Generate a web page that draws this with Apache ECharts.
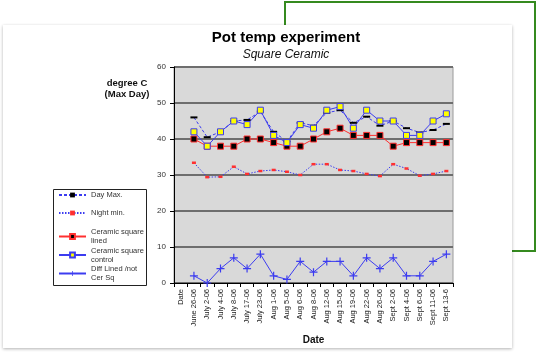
<!DOCTYPE html>
<html><head><meta charset="utf-8">
<script src="https://cdn.jsdelivr.net/npm/echarts@6/dist/echarts.min.js"></script>
<style>html,body{margin:0;padding:0;background:#fff}#c{width:536px;height:356px}</style>
</head><body><div id="c"></div>
<script>
var categories = ["Date","June 26-06","July 2-06","July 4-06","July 8-06","July 17-06","July 23-06","Aug 1-06","Aug 5-06","Aug 6-06","Aug 8-06","Aug 12-06","Aug 15-06","Aug 19-06","Aug 22-06","Aug 26-06","Sept 2-06","Sept 4-06","Sept 6-06","Sept 11-06","Sept 13-6"];
var dayMax   = [null,46,40.5,42,45,45.3,47.6,42,39.3,44.5,43.7,47.3,48,44.5,46.2,43.7,45,43,41.8,42.5,44.2];
var nightMin = [null,33.4,29.4,29.5,32.3,30.3,31.1,31.4,30.9,30,33,33,31.4,31.1,30.3,29.7,33,31.8,29.8,30.3,31.1];
var lined    = [null,40,38,38,38,40,40,39,38,38,40,42,43,41,41,41,38,39,39,39,39];
var control  = [null,42,38,42,45,44,48,41,39,44,43,48,49,43,48,45,45,41,41,45,47];
var diff     = [null,2,0,4,7,4,8,2,1,6,3,6,6,2,7,4,7,2,2,6,8];
var yTicks = [0,10,20,30,40,50,60];

var BLUE = '#3c3cf0', RED = '#ff3030';
var FONT = 'Liberation Sans, Arial, sans-serif';
var chart = echarts.init(document.getElementById('c'), null, {renderer:'canvas'});
var plus = 'path://M3.4,0H4.6V3.4H8V4.6H4.6V8H3.4V4.6H0V3.4H3.4Z';
chart.setOption({
  animation:false,
  textStyle:{fontFamily:FONT},
  graphic:[
    {type:'polyline', z:-20, shape:{points:[[285,30],[285,2],[535,2],[535,251],[505,251]]}, style:{stroke:'#358a1f', lineWidth:2, fill:null}},
    {type:'rect', z:-10, shape:{x:3,y:25,width:509,height:323}, style:{fill:'#fff', shadowBlur:3, shadowColor:'rgba(0,0,0,0.3)', shadowOffsetY:1}},
    {type:'rect', z:5, shape:{x:53.5,y:189.5,width:93,height:96}, style:{fill:null, stroke:'#222', lineWidth:1}}
  ],
  title:[
    {text:'Pot temp experiment', subtext:'Square Ceramic', left:281, textAlign:'center', top:25, itemGap:4,
     textStyle:{fontSize:15, fontWeight:'bold', color:'#000', fontFamily:FONT},
     subtextStyle:{fontSize:12, fontStyle:'italic', color:'#111', fontFamily:FONT}},
    {text:'degree C\n(Max Day)', left:122, textAlign:'center', top:73,
     textStyle:{fontSize:9.5, fontWeight:'bold', color:'#111', lineHeight:11, fontFamily:FONT}}
  ],
  legend:[
    {data:['Day Max.','Night min.'], orient:'vertical', left:58, top:186, itemGap:0, itemWidth:27, itemHeight:6, padding:0,
     textStyle:{fontSize:7.5, color:'#333', lineHeight:18}},
    {data:['Ceramic square\nlined','Ceramic square\ncontrol','Diff Lined /not\nCer Sq'], orient:'vertical', left:58, top:227.5, itemGap:0.5, itemWidth:27, itemHeight:6, padding:0,
     textStyle:{fontSize:7.5, color:'#333', lineHeight:9}}
  ],
  grid:{left:174, top:67, right:83, bottom:73, show:true, backgroundColor:'#d9d9d9', borderColor:'#9a9a9a', borderWidth:1},
  xAxis:{type:'category', data:categories, boundaryGap:true,
    name:'Date', nameLocation:'middle', nameGap:52, nameTextStyle:{fontSize:10, fontWeight:'bold', color:'#111'},
    axisLine:{lineStyle:{color:'#000', width:1}},
    axisTick:{show:true, length:4, alignWithLabel:false, lineStyle:{color:'#000'}},
    axisLabel:{rotate:90, fontSize:7.5, color:'#222', margin:6, interval:0}},
  yAxis:{type:'value', min:0, max:60, interval:10,
    axisLine:{show:true, lineStyle:{color:'#000', width:1}},
    axisTick:{show:true, length:4, lineStyle:{color:'#000'}},
    axisLabel:{fontSize:8, color:'#333', margin:8},
    splitLine:{show:true, lineStyle:{color:'#6e6e6e', width:2}}},
  series:[
    {name:'Day Max.', type:'line', data:dayMax, symbol:'rect', symbolSize:[7,2],
     lineStyle:{color:BLUE, width:1, type:[3,2]}, itemStyle:{color:'#000'}},
    {name:'Night min.', type:'line', data:nightMin, symbol:'rect', symbolSize:[4,2.5],
     lineStyle:{color:BLUE, width:1, type:[1.5,1.5]}, itemStyle:{color:RED}},
    {name:'Ceramic square\nlined', type:'line', data:lined, symbol:'rect', symbolSize:6,
     lineStyle:{color:RED, width:1}, itemStyle:{color:'#000', borderColor:RED, borderWidth:1}},
    {name:'Ceramic square\ncontrol', type:'line', data:control, symbol:'rect', symbolSize:6,
     lineStyle:{color:BLUE, width:1}, itemStyle:{color:'#ffff00', borderColor:BLUE, borderWidth:1}},
    {name:'Diff Lined /not\nCer Sq', type:'line', data:diff, symbol:plus, symbolSize:8,
     lineStyle:{color:BLUE, width:1}, itemStyle:{color:BLUE}}
  ]
});
</script></body></html>
